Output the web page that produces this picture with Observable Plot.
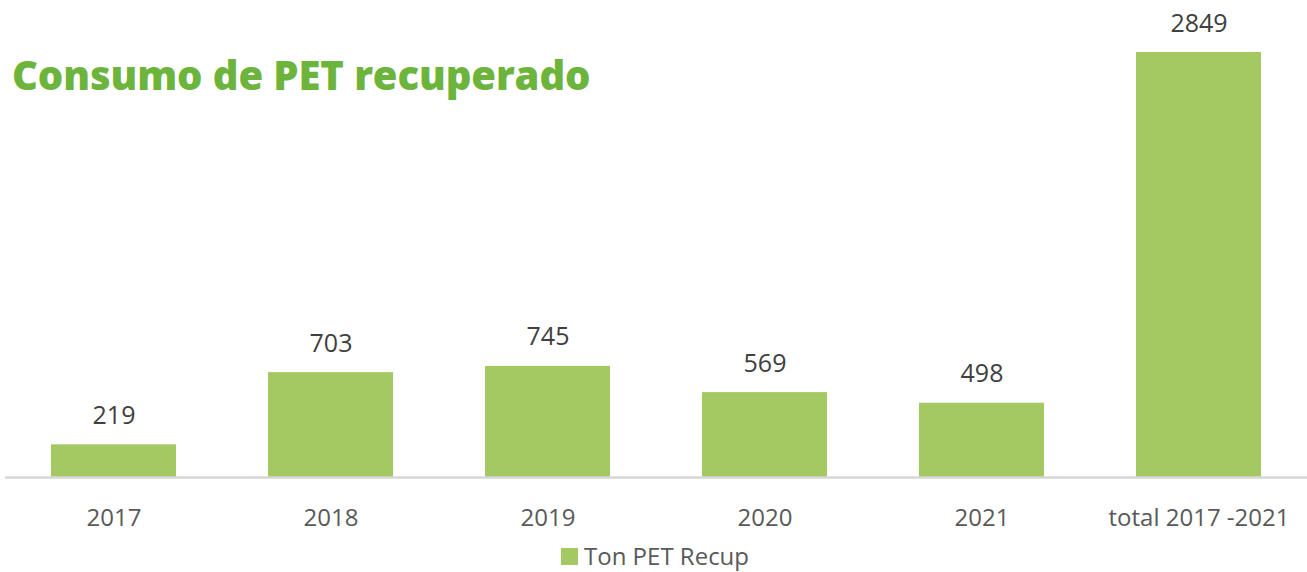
<!DOCTYPE html>
<html>
<head>
<meta charset="utf-8">
<script src="https://cdn.jsdelivr.net/npm/d3@7"></script>
<script src="https://cdn.jsdelivr.net/npm/@observablehq/plot@0.6"></script>
<style>
  html, body { margin: 0; padding: 0; background: #fff; }
  #wrap { position: relative; width: 1307px; height: 572px; overflow: hidden; }
  #title { position: absolute; left: 12px; top: 47px; font-family: "Open Sans", Lato, sans-serif; font-weight: 800; font-size: 40px; line-height: 56px; color: #6cb43c; letter-spacing: -0.1px; white-space: nowrap; }
  #legend { position: absolute; left: 561px; top: 541px; font-family: "Open Sans", sans-serif; font-size: 24px; line-height: 30px; color: #595959; display: flex; align-items: center; white-space: nowrap; }
  #legend .sw { width: 17px; height: 17px; background: #a4c963; margin-right: 6px; }
  #chart { position: absolute; left: 0; top: 0; }
</style>
</head>
<body>
<div id="wrap">
  <div id="chart"></div>
  <div id="title">Consumo de PET recuperado</div>
  <div id="legend"><span class="sw"></span><span>Ton PET Recup</span></div>
</div>
<script>
const categories = ["2017", "2018", "2019", "2020", "2021", "total 2017 -2021"];
const values = [219, 703, 745, 569, 498, 2849];
const seriesName = "Ton PET Recup";

const data = categories.map((c, i) => ({category: c, value: values[i]}));

const chart = Plot.plot({
  width: 1307,
  height: 572,
  marginTop: 52,
  marginBottom: 95,
  marginLeft: 5,
  marginRight: 0,
  style: {fontFamily: "'Open Sans', sans-serif", background: "transparent"},
  x: {domain: categories, paddingInner: 0.424, paddingOuter: 0.212, label: null},
  y: {domain: [0, 2849], axis: null},
  marks: [
    Plot.barY(data, {x: "category", y: "value", fill: "#a4c963"}),
    Plot.ruleY([0], {stroke: "#d6d6d6", strokeWidth: 2.5}),
    Plot.text(data, {x: "category", y: "value", text: d => String(d.value), dy: -21, lineAnchor: "bottom", fontSize: 25, fill: "#404040"}),
    Plot.axisX({tickSize: 0, tickPadding: 31, fontSize: 24, color: "#595959", label: null})
  ]
});
document.getElementById("chart").appendChild(chart);
</script>
</body>
</html>
